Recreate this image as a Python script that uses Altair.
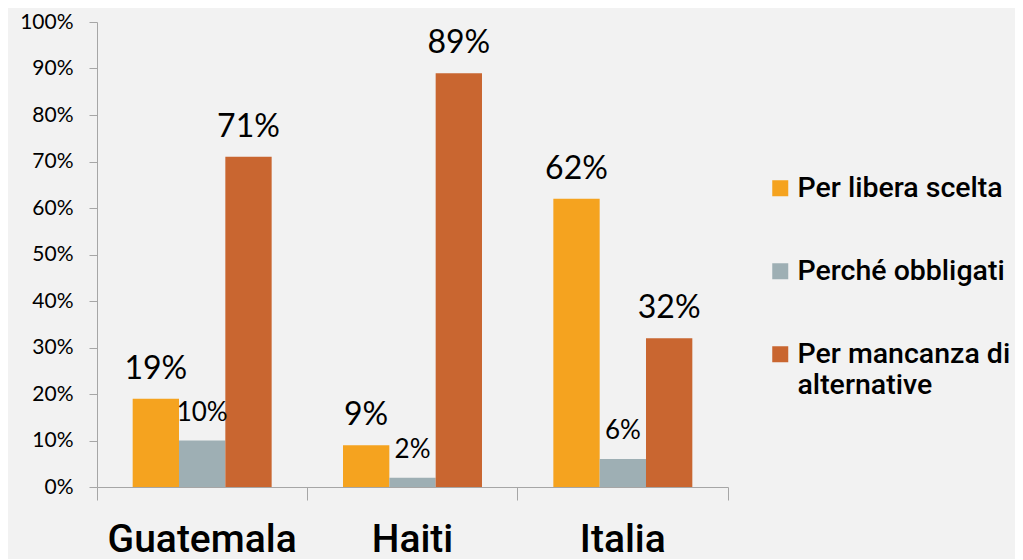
import altair as alt
import pandas as pd

countries = ["Guatemala", "Haiti", "Italia"]
series = ["Per libera scelta", "Perché obbligati", "Per mancanza di alternative"]
values = {
    "Per libera scelta": [0.19, 0.09, 0.62],
    "Perché obbligati": [0.10, 0.02, 0.06],
    "Per mancanza di alternative": [0.71, 0.89, 0.32],
}
colors = ["#F5A31F", "#9EAFB4", "#C96630"]

rows = []
for s in series:
    for c, v in zip(countries, values[s]):
        rows.append({"Paese": c, "Serie": s, "Valore": v})
df = pd.DataFrame(rows)

num_font = "Lato"
txt_font = "Roboto"

x = alt.X("Paese:N", sort=countries, title=None,
          scale=alt.Scale(paddingInner=0, paddingOuter=0),
          axis=alt.Axis(labelAngle=0, labelFont=txt_font, labelFontSize=39,
                        labelFontWeight=500, labelColor="#000000",
                        labelPadding=20, tickSize=13, bandPosition=1,
                        tickExtra=True, domainColor="#A6A6A6",
                        tickColor="#A6A6A6", labelBaseline="top",
                        labelLimit=400))
xo = alt.XOffset("Serie:N", sort=series,
                 scale=alt.Scale(paddingInner=0, paddingOuter=0.77))
y = alt.Y("Valore:Q", title=None,
          scale=alt.Scale(domain=[0, 1]),
          axis=alt.Axis(format=".0%", values=[i / 10 for i in range(11)],
                        grid=False, labelFont=num_font, labelFontSize=21,
                        labelColor="#000000", labelPadding=16, tickSize=8,
                        domainColor="#A6A6A6", tickColor="#A6A6A6"))

color = alt.Color("Serie:N", sort=series,
                  scale=alt.Scale(domain=series, range=colors),
                  legend=alt.Legend(title=None, orient="none", legendX=669,
                                    legendY=152, symbolType="square",
                                    symbolSize=256, symbolStrokeWidth=0,
                                    rowPadding=54, labelFont=txt_font,
                                    labelFontSize=28.5, labelFontWeight=500,
                                    labelColor="#000000", labelLimit=400,
                                    labelOffset=3,
                                    labelExpr="datum.label == 'Per mancanza di alternative' ? ['Per mancanza di', 'alternative'] : datum.label"))

base = alt.Chart(df)
bars = base.mark_bar().encode(x=x, xOffset=xo, y=y, color=color)

big = base.transform_filter(alt.datum.Serie != "Perché obbligati").mark_text(
    font=num_font, fontSize=32, baseline="alphabetic", dy=-20, color="#000000"
).encode(x=x, xOffset=xo, y=y, text=alt.Text("Valore:Q", format=".0%"))

small = base.transform_filter(alt.datum.Serie == "Perché obbligati").mark_text(
    font=num_font, fontSize=26, baseline="alphabetic", dy=-20, color="#000000"
).encode(x=x, xOffset=xo, y=y, text=alt.Text("Valore:Q", format=".0%"))

chart = alt.layer(bars, big, small).properties(
    width=631, height=465, background="#F2F2F2",
    padding={"left": 89, "top": 14, "right": 287, "bottom": 72},
    autosize=alt.AutoSizeParams(type="none"),
).configure_view(stroke=None)

chart.save("out.html", embed_options={"renderer": "svg", "actions": False})
